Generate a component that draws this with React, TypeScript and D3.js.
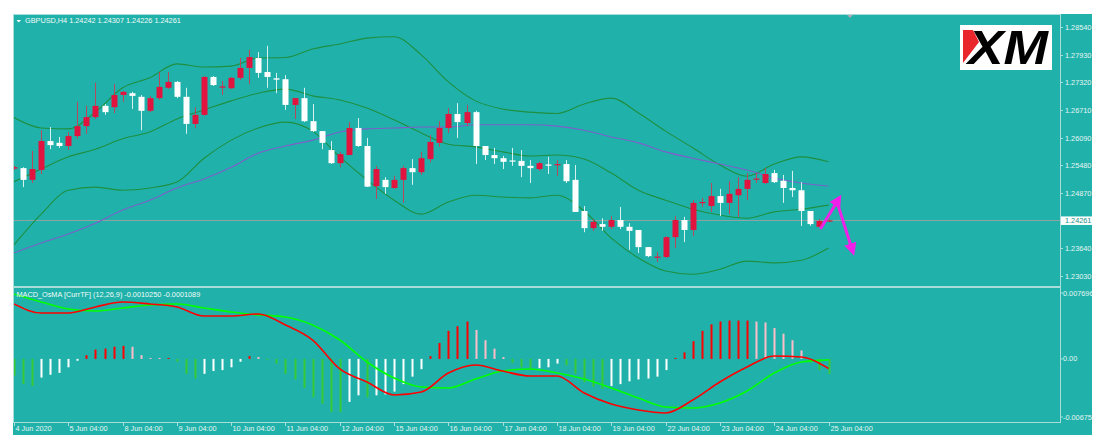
import React, { useRef, useEffect } from 'react';
import * as d3 from 'd3';

// GBPUSD H4, 4 Jun 2020 04:00 .. 25 Jun 2020 04:00 (one value per bar)
const open = [1.2541, 1.2542, 1.2516, 1.2538, 1.2602, 1.2598, 1.2591, 1.2613, 1.2635, 1.2655,
  1.2680, 1.2677, 1.2704, 1.2708, 1.2700, 1.2669, 1.2697, 1.2720, 1.2733, 1.2700,
  1.2640, 1.2660, 1.2744, 1.2721, 1.2719, 1.2742, 1.2764, 1.2786, 1.2755, 1.2741,
  1.2739, 1.2682, 1.2697, 1.2646, 1.2624, 1.2582, 1.2553, 1.2571, 1.2631, 1.2591,
  1.2502, 1.2516, 1.2498, 1.2516, 1.2542, 1.2533, 1.2562, 1.2598, 1.2631, 1.2662,
  1.2642, 1.2666, 1.2591, 1.2571, 1.2564, 1.2559, 1.2558, 1.2547, 1.2540, 1.2550,
  1.2549, 1.2551, 1.2516, 1.2447, 1.2409, 1.2418, 1.2412, 1.2427, 1.2412, 1.2405,
  1.2367, 1.2344, 1.2345, 1.2389, 1.2427, 1.2405, 1.2465, 1.2458, 1.2480, 1.2465,
  1.2482, 1.2496, 1.2517, 1.2509, 1.2531, 1.2514, 1.2498, 1.2493, 1.2447, 1.2412,
  1.24242];
const high = [1.2547, 1.2544, 1.2580, 1.2626, 1.2633, 1.2611, 1.2622, 1.2689, 1.2680, 1.2731,
  1.2684, 1.2728, 1.2713, 1.2711, 1.2704, 1.2702, 1.2755, 1.2755, 1.2735, 1.2720,
  1.2677, 1.2746, 1.2746, 1.2735, 1.2744, 1.2786, 1.2804, 1.2799, 1.2813, 1.2753,
  1.2748, 1.2697, 1.2720, 1.2684, 1.2624, 1.2602, 1.2578, 1.2644, 1.2653, 1.2609,
  1.2547, 1.2522, 1.2525, 1.2547, 1.2562, 1.2578, 1.2615, 1.2646, 1.2675, 1.2686,
  1.2682, 1.2669, 1.2591, 1.2587, 1.2569, 1.2587, 1.2582, 1.2560, 1.2556, 1.2567,
  1.2560, 1.2560, 1.2549, 1.2458, 1.2429, 1.2431, 1.2436, 1.2456, 1.2420, 1.2405,
  1.2367, 1.2356, 1.2391, 1.2436, 1.2434, 1.2471, 1.2476, 1.2509, 1.2496, 1.2513,
  1.2522, 1.2531, 1.2531, 1.2542, 1.2538, 1.2527, 1.2536, 1.2511, 1.2447, 1.2429,
  1.24307];
const low = [1.2538, 1.2500, 1.2509, 1.2529, 1.2584, 1.2587, 1.2582, 1.2607, 1.2618, 1.2651,
  1.2660, 1.2664, 1.2689, 1.2673, 1.2626, 1.2666, 1.2693, 1.2717, 1.2697, 1.2618,
  1.2631, 1.2657, 1.2724, 1.2704, 1.2717, 1.2737, 1.2728, 1.2742, 1.2720, 1.2708,
  1.2671, 1.2651, 1.2644, 1.2622, 1.2584, 1.2551, 1.2544, 1.2571, 1.2589, 1.2500,
  1.2474, 1.2485, 1.2496, 1.2465, 1.2505, 1.2527, 1.2555, 1.2589, 1.2620, 1.2609,
  1.2635, 1.2551, 1.2560, 1.2551, 1.2540, 1.2547, 1.2522, 1.2509, 1.2536, 1.2529,
  1.2525, 1.2509, 1.2445, 1.2400, 1.2403, 1.2403, 1.2407, 1.2407, 1.2361, 1.2354,
  1.2345, 1.2334, 1.2343, 1.2365, 1.2378, 1.2392, 1.2456, 1.2445, 1.2436, 1.2440,
  1.2434, 1.2471, 1.2509, 1.2507, 1.2509, 1.2465, 1.2478, 1.2414, 1.2414, 1.2412,
  1.24226];
const close = [1.2544, 1.2516, 1.2540, 1.2602, 1.2593, 1.2591, 1.2613, 1.2635, 1.2655, 1.2680,
  1.2666, 1.2704, 1.2711, 1.2702, 1.2669, 1.2697, 1.2722, 1.2733, 1.2700, 1.2640,
  1.2660, 1.2744, 1.2726, 1.2723, 1.2742, 1.2764, 1.2788, 1.2753, 1.2744, 1.2738,
  1.2682, 1.2697, 1.2646, 1.2624, 1.2598, 1.2553, 1.2573, 1.2631, 1.2591, 1.2501,
  1.2540, 1.2500, 1.2516, 1.2542, 1.2533, 1.2564, 1.2600, 1.2631, 1.2662, 1.2644,
  1.2666, 1.2591, 1.2571, 1.2564, 1.2556, 1.2557, 1.2547, 1.2542, 1.2553, 1.2548,
  1.2551, 1.2513, 1.2445, 1.2409, 1.2423, 1.2412, 1.2427, 1.2412, 1.2403, 1.2367,
  1.2347, 1.2346, 1.2389, 1.2427, 1.2405, 1.2465, 1.2467, 1.2480, 1.2465, 1.2485,
  1.2496, 1.2516, 1.2519, 1.2529, 1.2511, 1.2498, 1.2493, 1.2447, 1.2418, 1.2425,
  1.24261];

// indicator lines, read every third bar
const lineBars = [0, 3, 6, 9, 12, 15, 18, 21, 24, 27, 30, 33, 36, 39, 42, 45, 48, 51, 54, 57,
  60, 63, 66, 69, 72, 75, 78, 81, 84, 87, 90];
const bbUpper = [1.2654, 1.2631, 1.2629, 1.2666, 1.2720, 1.2742, 1.2773, 1.2766, 1.2768, 1.2786,
  1.2787, 1.2806, 1.2817, 1.2830, 1.2833, 1.2793, 1.2733, 1.2691, 1.2673, 1.2666,
  1.2663, 1.2684, 1.2697, 1.2664, 1.2624, 1.2587, 1.2549, 1.2524, 1.2551, 1.2567, 1.2556];
const bbMiddle = [1.2512, 1.2540, 1.2567, 1.2584, 1.2607, 1.2622, 1.2651, 1.2671, 1.2691, 1.2708,
  1.2717, 1.2702, 1.2693, 1.2675, 1.2649, 1.2620, 1.2595, 1.2589, 1.2578, 1.2569,
  1.2571, 1.2562, 1.2531, 1.2493, 1.2471, 1.2451, 1.2438, 1.2431, 1.2445, 1.2451, 1.2460];
const bbLower = [1.2372, 1.2440, 1.2493, 1.2500, 1.2493, 1.2498, 1.2511, 1.2564, 1.2604, 1.2631,
  1.2644, 1.2624, 1.2567, 1.2516, 1.2471, 1.2440, 1.2467, 1.2482, 1.2478, 1.2476,
  1.2482, 1.2447, 1.2387, 1.2343, 1.2314, 1.2307, 1.2318, 1.2336, 1.2332, 1.2338, 1.2365];
const maSlow = [1.2354, 1.2376, 1.2396, 1.2420, 1.2449, 1.2471, 1.2498, 1.2518, 1.2544, 1.2575,
  1.2591, 1.2604, 1.2622, 1.2629, 1.2631, 1.2633, 1.2633, 1.2638, 1.2638, 1.2638,
  1.2635, 1.2626, 1.2611, 1.2598, 1.2578, 1.2564, 1.2551, 1.2538, 1.2520, 1.2509, 1.2502];

const macdLine = [0.00588, 0.00491, 0.00491, 0.00556, 0.00609, 0.00588, 0.00556, 0.00459, 0.00459, 0.00481,
  0.00363, 0.00202, -0.00108, -0.00247, -0.00386, -0.00354, -0.00151, -0.00065, -0.00130, -0.00183,
  -0.00183, -0.00365, -0.00483, -0.00547, -0.00579, -0.00440, -0.00247, -0.00087, 0.00031, 0.00020, -0.001025];
const signalLine = [0.00695, 0.00609, 0.00534, 0.00513, 0.00545, 0.00577, 0.00588, 0.00545, 0.00502, 0.00470,
  0.00449, 0.00363, 0.00202, -0.00033, -0.00204, -0.00301, -0.00311, -0.00215, -0.00130, -0.00108,
  -0.00151, -0.00215, -0.00311, -0.00419, -0.00515, -0.00526, -0.00472, -0.00344, -0.00151, -0.00033, -0.0001089];

const osma = [-0.0018, -0.0027, -0.0029, -0.0020, -0.0017, -0.0015, -0.0009, -0.0002, 0.0004, 0.0010,
  0.0011, 0.0013, 0.0014, 0.0013, 0.0004, 0.0001, 0.0001, 0.0001, -0.0003, -0.0016,
  -0.0021, -0.0016, -0.0013, -0.0012, -0.0009, -0.0003, 0.0003, 0.0002, -0.0001, -0.0005,
  -0.0016, -0.0022, -0.0031, -0.0041, -0.0048, -0.0057, -0.0057, -0.0046, -0.0039, -0.0041,
  -0.0039, -0.0038, -0.0035, -0.0027, -0.0019, -0.0011, 0.0003, 0.0017, 0.0030, 0.0035,
  0.0040, 0.0031, 0.0020, 0.0011, 0.0002, -0.0004, -0.0009, -0.0011, -0.0010, -0.0009,
  -0.0005, -0.0007, -0.0016, -0.0025, -0.0030, -0.0032, -0.0029, -0.0027, -0.0024, -0.0022,
  -0.0021, -0.0019, -0.0012, 0.0001, 0.0007, 0.0019, 0.0030, 0.0037, 0.0040, 0.0041,
  0.0041, 0.0041, 0.0040, 0.0039, 0.0033, 0.0027, 0.0020, 0.0009, -0.0004, -0.0012,
  -0.0016];
// G falling below zero, W rising below zero, R rising above zero, P falling above zero
const osmaState = 'GGGWWWWWRRRRRPPPPRGGGWWWWWRPGGGGGGGGGWWGWWWWWWRRRRRPPPPGGGWWWGGGGGWWWWWWWRRRRRRRRRPPPPPPGGG'.split('');

const timeBars = [0, 6, 12, 18, 24, 30, 36, 42, 48, 54, 60, 66, 72, 78, 84, 90];
const timeLabels = ['4 Jun 2020', '5 Jun 04:00', '8 Jun 04:00', '9 Jun 04:00', '10 Jun 04:00',
  '11 Jun 04:00', '12 Jun 04:00', '15 Jun 04:00', '16 Jun 04:00', '17 Jun 04:00', '18 Jun 04:00',
  '19 Jun 04:00', '22 Jun 04:00', '23 Jun 04:00', '24 Jun 04:00', '25 Jun 04:00'];
const priceTicks = [1.2854, 1.2793, 1.2732, 1.2671, 1.2609, 1.2548, 1.2487, 1.2364, 1.2303];
const lastPrice = 1.24261;
const macdTicks = [0.007696, 0, -0.006755];
const macdTickLabels = ['0.007696', '0.00', '-0.006755'];

// forecast arrows drawn on the chart: [bar, price]
const arrowUp = [[89.1, 1.2407], [91.2, 1.2476]];
const arrowDown = [[90.9, 1.2469], [92.7, 1.2356]];

const App: React.FC = () => {
  const svgRef = useRef<SVGSVGElement>(null);

  useEffect(() => {
    if (!svgRef.current) return;
    const svg = d3.select(svgRef.current);
    svg.selectAll('*').remove();

    const teal = '#20b2aa';
    const frame = '#a9ddd9';
    const txt = '#e6f5f3';
    const font = 'Liberation Sans, Arial, sans-serif';
    const left = 14, right = 1060;
    const mainTop = 15, mainBottom = 286;
    const subTop = 288, subBottom = 422;

    const x = d3.scaleLinear().domain([0, 90]).range([14, 828.5]);
    const y = d3.scaleLinear().domain([1.2303, 1.2854]).range([276, 27.3]);
    const ym = d3.scaleLinear().domain([-0.006755, 0.007696]).range([subBottom, subTop - 1]);

    const defs = svg.append('defs');
    defs.append('clipPath').attr('id', 'clipMain')
      .append('rect').attr('x', left).attr('y', mainTop).attr('width', right - left).attr('height', mainBottom - mainTop);
    defs.append('clipPath').attr('id', 'clipSub')
      .append('rect').attr('x', left).attr('y', subTop).attr('width', right - left).attr('height', subBottom - subTop);
    defs.append('clipPath').attr('id', 'clipAll')
      .append('rect').attr('x', 13).attr('y', 14).attr('width', 1079).attr('height', 421);
    defs.append('marker').attr('id', 'head')
      .attr('viewBox', '0 0 10 10').attr('refX', 7).attr('refY', 5)
      .attr('markerWidth', 4.2).attr('markerHeight', 4.2).attr('orient', 'auto')
      .append('path').attr('d', 'M0,0 L10,5 L0,10 Z').attr('fill', '#f020e8');

    svg.append('rect').attr('width', 1107).attr('height', 448).attr('fill', '#ffffff');
    svg.append('rect').attr('x', 13).attr('y', 14).attr('width', 1079).attr('height', 421).attr('fill', teal);

    // last price line
    svg.append('line')
      .attr('x1', left).attr('x2', right)
      .attr('y1', Math.round(y(lastPrice)) + 0.5).attr('y2', Math.round(y(lastPrice)) + 0.5)
      .attr('stroke', '#8fa3a3').attr('stroke-width', 1);

    const main = svg.append('g').attr('clip-path', 'url(#clipMain)');

    const pts = (vals: number[]) => lineBars.map((b, k) => [x(b), y(vals[k])] as [number, number]);
    const curve = d3.line().curve(d3.curveMonotoneX);
    [bbUpper, bbMiddle, bbLower].forEach(v => {
      main.append('path').attr('d', curve(pts(v)))
        .attr('fill', 'none').attr('stroke', '#1e8f40').attr('stroke-width', 1.1);
    });
    main.append('path').attr('d', curve(pts(maSlow)))
      .attr('fill', 'none').attr('stroke', '#7c5fca').attr('stroke-width', 1.1);

    // candles
    open.forEach((o, i) => {
      const c = close[i];
      const bull = c >= o;
      const cx = Math.round(x(i));
      main.append('line')
        .attr('x1', cx + 0.5).attr('x2', cx + 0.5)
        .attr('y1', y(high[i])).attr('y2', y(low[i]))
        .attr('stroke', bull ? '#b8485c' : '#d6f1ef').attr('stroke-width', 1);
      const top = y(Math.max(o, c));
      const h = Math.max(1.2, y(Math.min(o, c)) - top);
      main.append('rect')
        .attr('x', cx - 2.5).attr('y', top).attr('width', 6).attr('height', h)
        .attr('fill', bull ? '#e0143e' : '#ffffff');
    });

    // arrows
    [arrowUp, arrowDown].forEach(a => {
      main.append('line')
        .attr('x1', x(a[0][0])).attr('y1', y(a[0][1]))
        .attr('x2', x(a[1][0])).attr('y2', y(a[1][1]))
        .attr('stroke', '#f020e8').attr('stroke-width', 3)
        .attr('marker-end', 'url(#head)');
    });

    // OsMA histogram + MACD lines
    const sub = svg.append('g').attr('clip-path', 'url(#clipSub)');
    const barColor: Record<string, string> = { G: '#36c936', W: '#ffffff', R: '#ff0000', P: '#ffbcc8' };
    osma.forEach((v, i) => {
      const cx = Math.round(x(i));
      const y0 = ym(0), y1 = ym(v);
      sub.append('rect')
        .attr('x', cx - 0.5).attr('width', 2)
        .attr('y', Math.min(y0, y1)).attr('height', Math.max(1, Math.abs(y1 - y0)))
        .attr('fill', barColor[osmaState[i]]);
    });
    const mpts = (vals: number[]) => lineBars.map((b, k) => [x(b), ym(vals[k])] as [number, number]);
    sub.append('path').attr('d', curve(mpts(signalLine)))
      .attr('fill', 'none').attr('stroke', '#00ff00').attr('stroke-width', 1.6);
    sub.append('path').attr('d', curve(mpts(macdLine)))
      .attr('fill', 'none').attr('stroke', '#ff0000').attr('stroke-width', 1.6);

    // frame
    const fr = svg.append('g').attr('stroke', frame).attr('fill', 'none');
    fr.append('line').attr('x1', 13).attr('x2', right).attr('y1', 14.5).attr('y2', 14.5);
    fr.append('line').attr('x1', 13.5).attr('x2', 13.5).attr('y1', 14).attr('y2', subBottom + 1);
    fr.append('line').attr('x1', right + 0.5).attr('x2', right + 0.5).attr('y1', 14).attr('y2', subBottom + 1);
    fr.append('line').attr('x1', 13).attr('x2', right).attr('y1', 287).attr('y2', 287).attr('stroke-width', 2);
    fr.append('line').attr('x1', 13).attr('x2', right + 1).attr('y1', subBottom + 0.5).attr('y2', subBottom + 0.5);

    const axes = svg.append('g').attr('clip-path', 'url(#clipAll)')
      .style('font-family', font).style('font-size', '7.3px').style('white-space', 'pre').attr('fill', txt);

    // price axis
    priceTicks.forEach(p => {
      const py = Math.round(y(p)) + 0.5;
      axes.append('line').attr('x1', right).attr('x2', right + 3).attr('y1', py).attr('y2', py).attr('stroke', frame);
      axes.append('text').attr('x', right + 5).attr('y', py + 2.6).text(p.toFixed(5));
    });
    const ly = y(lastPrice);
    axes.append('rect').attr('x', right + 1).attr('y', ly - 4).attr('width', 31).attr('height', 8.5).attr('fill', '#ffffff');
    axes.append('text').attr('x', right + 5).attr('y', ly + 2.6).attr('fill', '#1c8f89').text(lastPrice.toFixed(5));

    // macd axis
    macdTicks.forEach((v, k) => {
      const py = k === 0 ? 293 : k === 2 ? 417 : ym(v);
      axes.append('line').attr('x1', right).attr('x2', right + 3).attr('y1', py).attr('y2', py).attr('stroke', frame);
      axes.append('text').attr('x', right + 3).attr('y', py + 2.6).text(macdTickLabels[k]);
    });

    // time axis
    timeBars.forEach((b, k) => {
      const tx = Math.round(x(b)) + 0.5;
      axes.append('line').attr('x1', tx).attr('x2', tx).attr('y1', subBottom).attr('y2', subBottom + 4).attr('stroke', frame);
      axes.append('text').attr('x', tx + 1).attr('y', 431).text(timeLabels[k]);
    });

    // headers
    axes.append('path').attr('d', 'M16.5,20 L21,20 L18.75,22.5 Z').attr('fill', '#ffffff');
    axes.append('text').attr('x', 25).attr('y', 23.4).attr('fill', '#f2faf9')
      .text('GBPUSD,H4  1.24242 1.24307 1.24226 1.24261');
    axes.append('text').attr('x', 16.5).attr('y', 296.6).attr('fill', '#f2faf9')
      .text('MACD_OsMA [CurrTF] (12,26,9) -0.0010250 -0.0001089');
    // chart shift marker
    svg.append('path').attr('d', 'M847,15 L853,15 L850,18 Z').attr('fill', '#b0a8b0');

    // XM logo
    const logo = svg.append('g');
    logo.append('rect').attr('x', 960).attr('y', 25).attr('width', 92).attr('height', 45).attr('fill', '#ffffff');
    logo.append('path').attr('d', 'M963,30 L973,30 L979,42 L963,63 Z').attr('fill', '#e8262c');
    logo.append('text').attr('x', 968).attr('y', 63.5)
      .attr('textLength', 80).attr('lengthAdjust', 'spacingAndGlyphs')
      .style('font-family', font).style('font-size', '48px').style('font-weight', 900)
      .style('font-style', 'italic').attr('fill', '#000000').text('XM');
  }, []);

  return <svg ref={svgRef} width={1107} height={448} style={{ position: 'absolute', left: 0, top: 0 }} />;
};

export default App;
